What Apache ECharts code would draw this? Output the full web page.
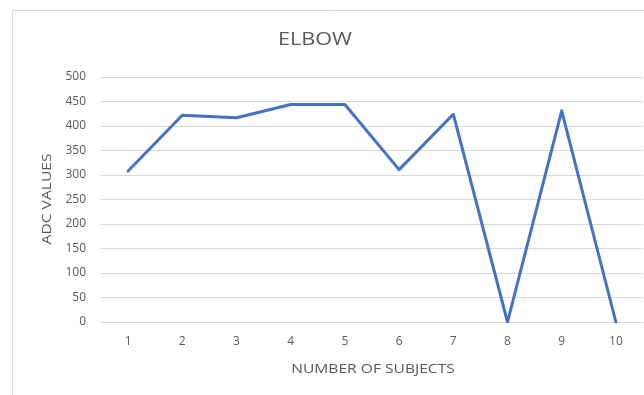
<!DOCTYPE html>
<html>
<head>
<meta charset="utf-8">
<script src="https://cdn.jsdelivr.net/npm/echarts@6/dist/echarts.min.js"></script>
<style>
  html, body { margin: 0; padding: 0; background: #ffffff; }
  #chart { width: 644px; height: 395px; }
</style>
</head>
<body>
<div id="chart"></div>
<script>
// Subjects along the x axis and the ADC value measured for each
const subjects = ['1', '2', '3', '4', '5', '6', '7', '8', '9', '10'];
const adcValues = [308, 422, 417, 444, 444, 311, 424, 0, 431, 0];
const yTicks = { min: 0, max: 500, interval: 50 };
const chartTitle = 'ELBOW';
const xAxisTitle = 'NUMBER OF SUBJECTS';
const yAxisTitle = 'ADC VALUES';

const textColor = '#595959';
const fontFamily = '"Open Sans", "Liberation Sans", sans-serif';

const chart = echarts.init(document.getElementById('chart'), null, { renderer: 'canvas' });

// Titles are drawn as slightly widened text blocks
function wideText(text, x, y, size, rotation) {
  return {
    type: 'text',
    x: x, y: y,
    rotation: rotation || 0,
    scaleX: 1.2,
    silent: true,
    style: {
      text: text,
      fill: textColor,
      font: size + 'px ' + fontFamily,
      align: 'center',
      verticalAlign: 'middle'
    }
  };
}

chart.setOption({
  animation: false,
  backgroundColor: '#ffffff',
  graphic: [
    {
      type: 'rect',
      shape: { x: 12.5, y: 10.5, width: 700, height: 500 },
      style: { fill: 'none', stroke: '#d9d9d9', lineWidth: 1 },
      silent: true
    },
    wideText(chartTitle, 315, 40, 18),
    wideText(xAxisTitle, 373, 369, 13),
    wideText(yAxisTitle, 47, 199, 13, Math.PI / 2)
  ],
  grid: { left: 101, right: 1, top: 77, bottom: 73, containLabel: false },
  xAxis: {
    type: 'category',
    data: subjects,
    boundaryGap: true,
    axisLine: { show: true, lineStyle: { color: '#d9d9d9', width: 1 } },
    axisTick: { show: false },
    axisLabel: { color: textColor, fontFamily: fontFamily, fontSize: 12, margin: 14 },
    splitLine: { show: false }
  },
  yAxis: {
    type: 'value',
    min: yTicks.min,
    max: yTicks.max,
    interval: yTicks.interval,
    axisLine: { show: false },
    axisTick: { show: false },
    axisLabel: { color: textColor, fontFamily: fontFamily, fontSize: 12, margin: 15 },
    splitLine: { show: true, lineStyle: { color: '#d9d9d9', width: 1 } }
  },
  series: [{
    type: 'line',
    data: adcValues,
    showSymbol: false,
    symbol: 'none',
    smooth: false,
    lineStyle: { color: '#4472c4', width: 3, join: 'round', cap: 'round' },
    itemStyle: { color: '#4472c4' }
  }]
});
</script>
</body>
</html>
